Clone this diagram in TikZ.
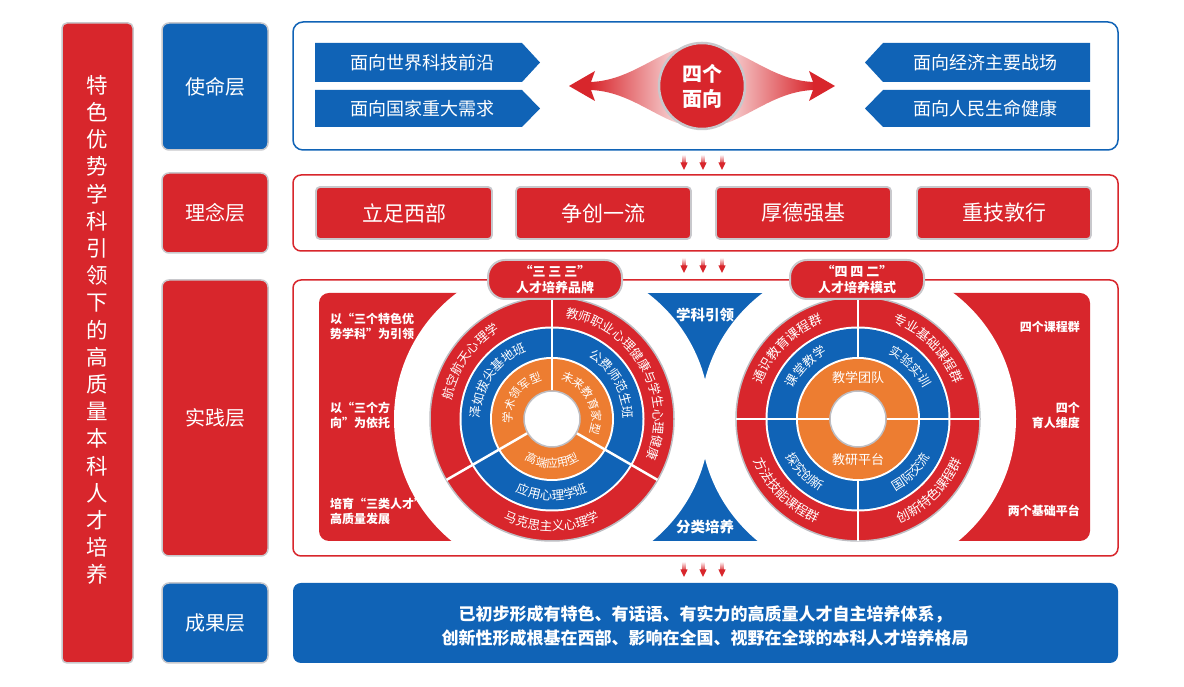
\documentclass[tikz,border=0pt]{standalone}
\usepackage{fontspec}
\setmainfont{Noto Sans CJK SC}
\usetikzlibrary{decorations.text}
\definecolor{myred}{RGB}{216,38,44}
\definecolor{myblue}{RGB}{16,99,182}
\definecolor{myorange}{RGB}{237,125,49}
\definecolor{edgegray}{RGB}{200,200,204}
\definecolor{ringgray}{RGB}{190,190,195}
\definecolor{halopink}{RGB}{238,205,207}
\pgfdeclareradialshading{halo}{\pgfpoint{0bp}{0bp}}{color(0bp)=(white); color(44bp)=(white); color(50bp)=(halopink)}
\newcommand\arctext[6]{\path[decorate,decoration={text along path,text align=center,text={|\fontsize{#5}{#5}\selectfont\color{white}|#6}}] (#1) ++(#3:#2pt) arc[start angle=#3,end angle=#4,radius=#2pt];}
\newcommand\myrings[1]{%
  \draw[fill=myred, draw=ringgray, line width=1.5pt] (#1) circle[radius=122pt];
  \fill[white] (#1) circle[radius=92.5pt];
  \fill[myblue] (#1) circle[radius=90.5pt];
  \fill[white] (#1) circle[radius=62pt];
  \fill[myorange] (#1) circle[radius=60pt];
  \draw[fill=white, draw=ringgray, line width=1.5pt] (#1) circle[radius=28pt];}
\newcommand\smallarrow[2]{%
  \shade[top color=myred!5, bottom color=myred] (#1-1.3,#2) rectangle (#1+1.3,#2-9);
  \fill[myred] (#1-3.6,#2-7.5) -- (#1+3.6,#2-7.5) -- (#1,#2-15) -- cycle;}
\begin{document}
\begin{tikzpicture}[x=1pt,y=1pt,
  layerbox/.style={draw=edgegray, line width=1.5pt, rounded corners=7pt},
  lab/.style={text=white, font=\fontsize{20}{20}\selectfont, inner sep=0pt},
  mtext/.style={text=white, font=\fontsize{18}{18}\selectfont, inner sep=0pt},
  ideabox/.style={draw=edgegray, line width=1.8pt, fill=myred, rounded corners=4pt},
  itext/.style={text=white, font=\fontsize{21}{21}\selectfont, inner sep=0pt},
  ptext/.style={text=white, font=\bfseries\fontsize{12}{15}\selectfont, inner sep=0pt},
  pill/.style={draw=edgegray, line width=2pt, fill=myred, rounded corners=17pt, minimum width=134pt, minimum height=39pt, text=white, font=\bfseries\fontsize{13}{16}\selectfont, align=center, inner sep=0pt},
  sep/.style={white, line width=2.5pt}]
\useasboundingbox (0,0) rectangle (1184,687);
\fill[white] (0,0) rectangle (1184,687);

% ---- left title column
\draw[fill=myred, draw=edgegray, line width=1.5pt, rounded corners=5pt] (62,24) rectangle (133,664);
\node[text=white, font=\fontsize{21.5}{27.2}\selectfont, align=center, inner sep=0pt] (title) at (97.5,357) {特\\色\\优\\势\\学\\科\\引\\领\\下\\的\\高\\质\\量\\本\\科\\人\\才\\培\\养};

% ---- layer labels
\path[layerbox, fill=myblue] (162,537) rectangle (268,664);
\node[lab] (L1) at (215,600.5) {使命层};
\path[layerbox, fill=myred] (162,434) rectangle (268,514);
\node[lab] (L2) at (215,474) {理念层};
\path[layerbox, fill=myred] (162,131) rectangle (268,407);
\node[lab] (L3) at (215,269) {实践层};
\path[layerbox, fill=myblue] (162,24) rectangle (268,104);
\node[lab] (L4) at (215,64) {成果层};

% ---- mission panel
\draw[myblue, line width=1.5pt, fill=white, rounded corners=10pt] (293,537) rectangle (1118,665);
\fill[myblue] (315,605) -- (522,605) -- (540,624.5) -- (522,644) -- (315,644) -- cycle;
\fill[myblue] (315,560) -- (522,560) -- (540,578.5) -- (522,597) -- (315,597) -- cycle;
\fill[myblue] (1090,605) -- (883,605) -- (865,624.5) -- (883,644) -- (1090,644) -- cycle;
\fill[myblue] (1090,560) -- (883,560) -- (865,578.5) -- (883,597) -- (1090,597) -- cycle;
\node[mtext] (m1) at (422,624.5) {面向世界科技前沿};
\node[mtext] (m2) at (422,578.5) {面向国家重大需求};
\node[mtext] (m3) at (985,624.5) {面向经济主要战场};
\node[mtext] (m4) at (985,578.5) {面向人民生命健康};
% fans and arrowheads
\shade[left color=myred, right color=myred!8] (590,605) .. controls (625,606) and (650,628) .. (677,638) -- (690,601) -- (677,564) .. controls (650,574) and (625,596) .. (590,597) -- cycle;
\shade[left color=myred!8, right color=myred] (814,605) .. controls (779,606) and (754,628) .. (727,638) -- (714,601) -- (727,564) .. controls (754,574) and (779,596) .. (814,597) -- cycle;
\fill[myred] (569,601) -- (595,616) -- (591,605) -- (591,597) -- (595,586) -- cycle;
\fill[myred] (835,601) -- (809,616) -- (813,605) -- (813,597) -- (809,586) -- cycle;
\node[circle, fill=myred, draw=edgegray, line width=2.5pt, minimum size=86pt, text=white, font=\bfseries\fontsize{20}{25}\selectfont, align=center, inner sep=0pt] (four) at (702,601) {四个\\面向};

% ---- small arrows
\foreach \ay in {532,429,125}{\foreach \ax in {684,703,722}{\smallarrow{\ax}{\ay}}}

% ---- idea panel
\draw[myred, line width=1.5pt, fill=white, rounded corners=8pt] (293,436) rectangle (1118,512);
\path[ideabox] (316,448) rectangle (492,500);
\node[itext] (i1) at (404,474) {立足西部};
\path[ideabox] (516,448) rectangle (691,500);
\node[itext] (i2) at (603.5,474) {争创一流};
\path[ideabox] (716,448) rectangle (891,500);
\node[itext] (i3) at (803.5,474) {厚德强基};
\path[ideabox] (917,448) rectangle (1091,500);
\node[itext] (i4) at (1004,474) {重技敦行};

% ---- practice panel
\coordinate (CL) at (552,268);
\coordinate (CR) at (858,268);
\fill[white, rounded corners=8pt] (293,131) rectangle (1118,407);
\begin{scope}
  \clip[rounded corners=8pt] (293,131) rectangle (1118,407);
  \fill[myred, rounded corners=10pt] (319,146) rectangle (640,394);
  \fill[myred, rounded corners=10pt] (770,146) rectangle (1090,394);
  \fill[myblue] (600,146) rectangle (810,394);
  \shade[shading=halo] (CL) circle[radius=158pt];
  \shade[shading=halo] (CR) circle[radius=158pt];
\end{scope}
\draw[myred, line width=1.5pt, rounded corners=8pt] (293,131) rectangle (1118,407);

\myrings{CL}
\myrings{CR}
\foreach \a in {90,210,330}{\draw[sep] (CL) ++(\a:28.8pt) -- ++(\a:93pt);}
\foreach \a in {90,270}{\draw[sep] (CR) ++(\a:60pt) -- ++(\a:62pt);}
\foreach \a in {0,180}{\draw[sep] (CR) ++(\a:28.8pt) -- ++(\a:93pt);}

% left circle texts
\arctext{CL}{102.25}{205}{85}{12.5}{航空航天心理学}
\arctext{CL}{111.75}{215}{325}{12.5}{马克思主义心理学}
\arctext{CL}{102.25}{88}{-28}{12.5}{教师职业心理健康与学生心理健康}
\arctext{CL}{71.75}{205}{85}{12.5}{泽如拔尖基地班}
\arctext{CL}{81.25}{215}{325}{12.5}{应用心理学班}
\arctext{CL}{71.75}{88}{-28}{12.5}{公费师范生班}
\arctext{CL}{40.1}{205}{85}{11.5}{学术领军型}
\arctext{CL}{48.9}{215}{325}{11.5}{高端应用型}
\arctext{CL}{40.1}{88}{-32}{11.5}{未来教育家型}

% right circle texts
\arctext{CR}{102.1}{178}{92}{13}{通识教育课程群}
\arctext{CR}{102.1}{88}{2}{13}{专业基础课程群}
\arctext{CR}{111.9}{182}{268}{13}{方法技能课程群}
\arctext{CR}{111.9}{272}{358}{13}{创新特色课程群}
\arctext{CR}{71.75}{178}{92}{12.5}{课堂教学}
\arctext{CR}{71.75}{88}{2}{12.5}{实验实训}
\arctext{CR}{81.25}{182}{268}{12.5}{探究创新}
\arctext{CR}{81.25}{272}{358}{12.5}{国际交流}
\node[text=white, font=\fontsize{13}{13}\selectfont, inner sep=0pt] (o1) at (858,309) {教学团队};
\node[text=white, font=\fontsize{13}{13}\selectfont, inner sep=0pt] (o2) at (858,227) {教研平台};

% middle
\node[text=white, font=\bfseries\fontsize{14.5}{14.5}\selectfont, inner sep=0pt] (xk) at (705,372) {学科引领};
\node[text=white, font=\bfseries\fontsize{14.5}{14.5}\selectfont, inner sep=0pt] (fl) at (705,160) {分类培养};

% side texts
\node[ptext, anchor=west, align=left] (t1) at (330,361) {以“三个特色优\\势学科”为引领};
\node[ptext, anchor=west, align=left] (t2) at (330,272) {以“三个方\\向”为依托};
\node[ptext, anchor=west, align=left] (t3) at (330,176) {培育“三类人才”\\高质量发展};
\node[ptext, anchor=east, align=right] (r1) at (1080,360) {四个课程群};
\node[ptext, anchor=east, align=right] (r2) at (1080,272) {四个\\育人维度};
\node[ptext, anchor=east, align=right] (r3) at (1080,176) {两个基础平台};

% pills
\node[pill] (p1) at (555,407.5) {“三 三 三”\\人才培养品牌};
\node[pill] (p2) at (857,407.5) {“四 四 二”\\人才培养模式};

% ---- result panel
\fill[myblue, rounded corners=8pt] (293,24) rectangle (1118,104);
\node[text=white, font=\bfseries\fontsize{17}{24}\selectfont, align=center, inner sep=0pt] (res) at (705,61) {已初步形成有特色、有话语、有实力的高质量人才自主培养体系，\\创新性形成根基在西部、影响在全国、视野在全球的本科人才培养格局};
\end{tikzpicture}
\end{document}
